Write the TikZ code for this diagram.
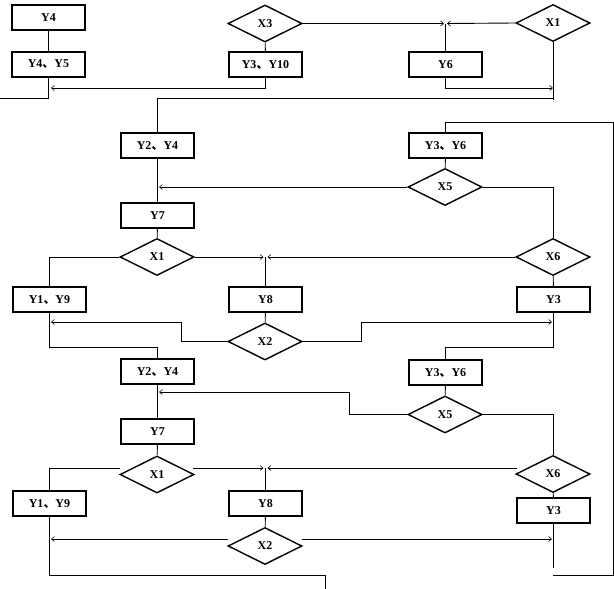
\documentclass[tikz,border=0pt]{standalone}
\usepackage{fontspec}
\setmainfont{Liberation Serif}
\newfontfamily\cjk{Noto Sans CJK SC}
\usetikzlibrary{shapes.geometric,arrows.meta}
\newcommand{\dun}{{\cjk 、}}
\tikzset{
  box/.style={draw, line width=2pt, minimum width=73pt, minimum height=25pt, inner sep=0pt, font=\fontsize{12}{14}\selectfont\bfseries},
  dia/.style={diamond, draw, line width=1.4pt, minimum width=74pt, minimum height=37pt, inner sep=0pt, font=\fontsize{12}{14}\selectfont\bfseries},
  conn/.style={line width=0.9pt},
  arr/.style={conn, -{Straight Barb[length=3pt,width=5pt,line width=0.6pt]}}
}
\begin{document}
\begin{tikzpicture}[x=1pt,y=-1pt]
\useasboundingbox (0,0) rectangle (614,589);
% top section
\node[box] (Y4) at (48.5,17.5) {Y4};
\node[box] (Y4Y5) at (48.5,64.5) {Y4\dun Y5};
\node[dia] (X3) at (265,23.5) {X3};
\node[box] (Y3Y10) at (265.5,64.5) {Y3\dun Y10};
\node[box] (Y6) at (445.5,64.5) {Y6};
\node[dia] (X1t) at (553,23) {X1};
% middle section
\node[box] (Y2Y4a) at (157.5,145.5) {Y2\dun Y4};
\node[box] (Y3Y6a) at (445.5,145.5) {Y3\dun Y6};
\node[dia] (X5a) at (445,187) {X5};
\node[box] (Y7a) at (157.5,215.5) {Y7};
\node[dia] (X1a) at (157,257) {X1};
\node[dia] (X6a) at (553,257) {X6};
\node[box] (Y1Y9a) at (49.5,299.5) {Y1\dun Y9};
\node[box] (Y8a) at (265.5,299.5) {Y8};
\node[box] (Y3a) at (553.5,299.5) {Y3};
\node[dia] (X2a) at (265,341.5) {X2};
% lower section
\node[box] (Y2Y4b) at (157.5,371.5) {Y2\dun Y4};
\node[box] (Y3Y6b) at (445.5,372.5) {Y3\dun Y6};
\node[dia] (X5b) at (445,414.5) {X5};
\node[box] (Y7b) at (157.5,431.5) {Y7};
\node[dia] (X1b) at (157,474.5) {X1};
\node[dia] (X6b) at (553,474) {X6};
\node[box] (Y1Y9b) at (49.5,503.5) {Y1\dun Y9};
\node[box] (Y8b) at (265.5,503.5) {Y8};
\node[box] (Y3b) at (553.5,510.5) {Y3};
\node[dia] (X2b) at (265,546) {X2};
% coordinates
\coordinate (J1) at (445.5,23.5);
\coordinate (K1) at (553,88);
\coordinate (L1) at (51,88);
\coordinate (B1) at (48.5,98);
\coordinate (E1) at (0,98);
\coordinate (M1) at (553,100);
\coordinate (M2) at (553,98);
\coordinate (M3) at (157.5,98);
\coordinate (A5) at (159,187);
\coordinate (R1) at (445.5,122);
\coordinate (R2) at (613,122);
\coordinate (R3) at (613,575);
\coordinate (R4) at (553,575);
\coordinate (J2) at (265.5,257);
\coordinate (S1) at (181,341.5);
\coordinate (S2) at (181,322);
\coordinate (S3) at (51,322);
\coordinate (T1) at (361,341.5);
\coordinate (T2) at (361,322);
\coordinate (T3) at (552,322);
\coordinate (U1) at (49.5,347);
\coordinate (U2) at (157.5,347);
\coordinate (V1) at (553.5,347);
\coordinate (V2) at (445.5,347);
\coordinate (W1) at (349,414.5);
\coordinate (W2) at (349,392);
\coordinate (W3) at (159,392);
\coordinate (H1) at (120,468);
\coordinate (H2) at (49.5,468);
\coordinate (H3) at (193,468);
\coordinate (H4) at (517,468);
\coordinate (J3) at (265.5,468);
\coordinate (G1) at (228,539);
\coordinate (G2) at (51,539);
\coordinate (G3) at (302,539);
\coordinate (G4) at (552,539);
\coordinate (F1) at (49.5,575);
\coordinate (F2) at (325,575);
\coordinate (F3) at (325,589);
\coordinate (F4) at (553.5,568);
% top connectors
\draw[conn] (Y4) -- (Y4Y5);
\draw[conn] (X3) -- (Y3Y10);
\draw[arr] (X3.east) -- ([xshift=-1.5pt]J1);
\draw[arr] (X1t.west) -- ([xshift=1.5pt]J1);
\draw[conn] (Y6.north) -- (J1);
\draw[arr] (Y6.south) |- (K1);
\draw[arr] (Y3Y10.south) |- (L1);
\draw[conn] (Y4Y5.south) -- (B1) -- (E1);
\draw[conn] (X1t.south) -- (M1);
\draw[conn] (M2) -- (M3) -- (Y2Y4a.north);
% middle connectors
\draw[conn] (Y2Y4a) -- (Y7a);
\draw[arr] (X5a.west) -- (A5);
\draw[conn] (Y3Y6a) -- (X5a);
\draw[conn] (Y3Y6a.north) -- (R1) -- (R2) -- (R3) -- (R4);
\draw[conn] (X5a.east) -| (X6a.north);
\draw[conn] (Y7a) -- (X1a);
\draw[conn] (X1a.west) -| (Y1Y9a.north);
\draw[arr] (X1a.east) -- ([xshift=-2pt]J2);
\draw[arr] (X6a.west) -- ([xshift=2pt]J2);
\draw[conn] (Y8a.north) -- (J2);
\draw[conn] (X6a) -- (Y3a);
\draw[conn] (Y8a) -- (X2a);
\draw[arr] (X2a.west) -- (S1) -- (S2) -- (S3);
\draw[arr] (X2a.east) -- (T1) -- (T2) -- (T3);
\draw[conn] (Y1Y9a.south) -- (U1) -- (U2) -- (Y2Y4b.north);
\draw[conn] (Y3a.south) -- (V1) -- (V2) -- (Y3Y6b.north);
% lower connectors
\draw[conn] (Y2Y4b) -- (Y7b);
\draw[conn] (Y3Y6b) -- (X5b);
\draw[arr] (X5b.west) -- (W1) -- (W2) -- (W3);
\draw[conn] (X5b.east) -| (X6b.north);
\draw[conn] (Y7b) -- (X1b);
\draw[conn] (H1) -- (H2) -- (Y1Y9b.north);
\draw[arr] (H3) -- ([xshift=-2pt]J3);
\draw[arr] (H4) -- ([xshift=2pt]J3);
\draw[conn] (Y8b.north) -- (J3);
\draw[conn] (X6b) -- (Y3b);
\draw[conn] (Y8b) -- (X2b);
\draw[arr] (G1) -- (G2);
\draw[arr] (G3) -- (G4);
\draw[conn] (Y1Y9b.south) -- (F1) -- (F2) -- (F3);
\draw[conn] (Y3b.south) -- (F4);
\end{tikzpicture}
\end{document}
